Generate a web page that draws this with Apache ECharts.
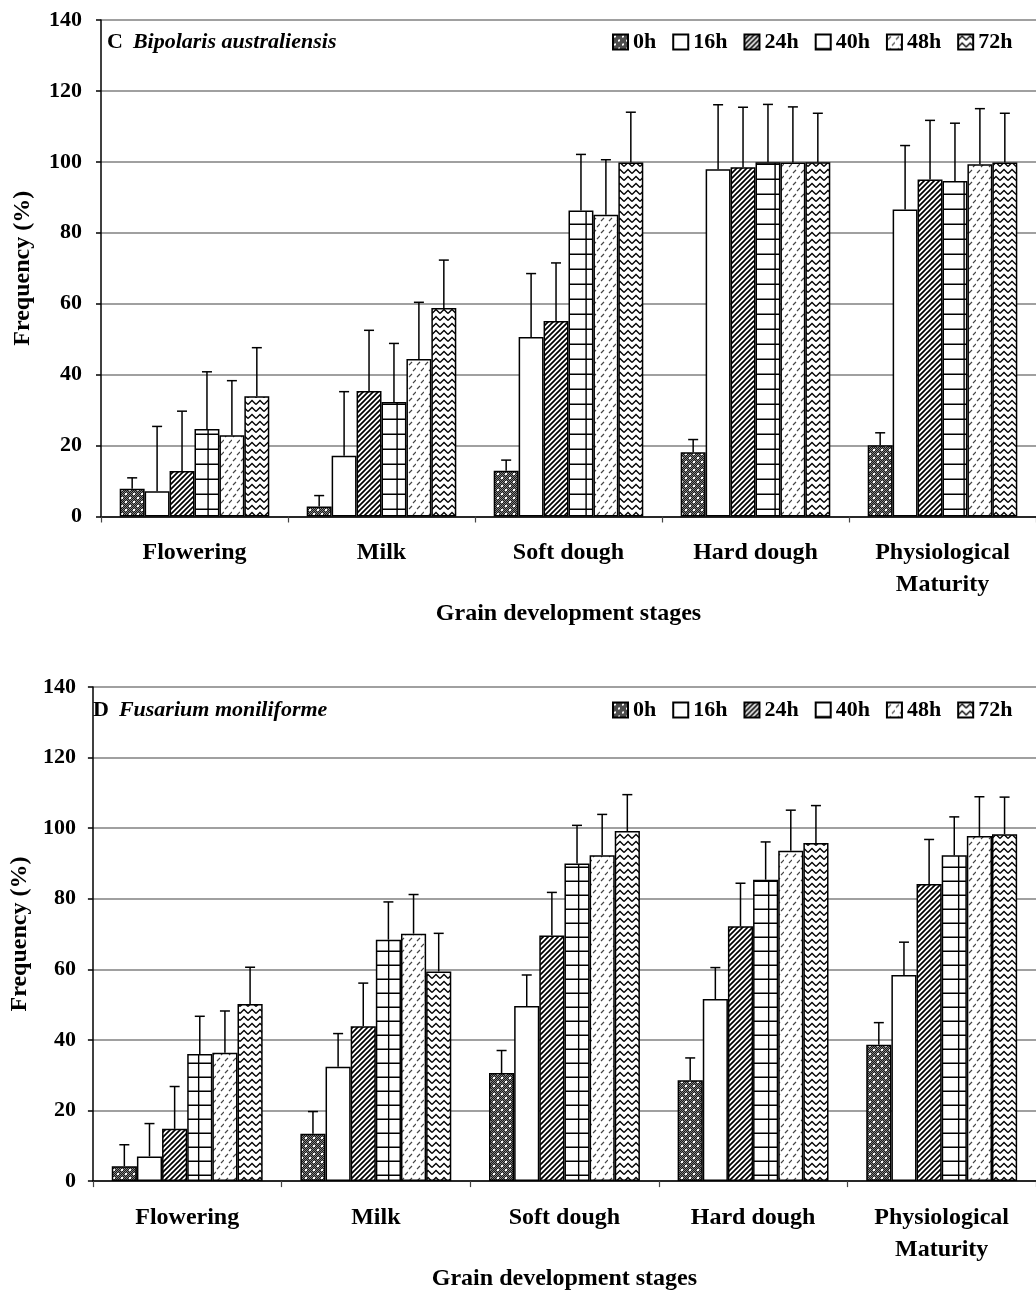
<!DOCTYPE html>
<html>
<head>
<meta charset="utf-8">
<script src="https://cdn.jsdelivr.net/npm/echarts@6/dist/echarts.min.js"></script>
<style>
html,body{margin:0;padding:0;background:#fff;}
#chart{width:1036px;height:1292px;}
</style>
</head>
<body>
<div id="chart"></div>
<script>
// ---------------- DATA ----------------
const categories = ['Flowering', 'Milk', 'Soft dough', 'Hard dough', 'Physiological\nMaturity'];
const seriesNames = ['0h', '16h', '24h', '40h', '48h', '72h'];
const yTicks = [0, 20, 40, 60, 80, 100, 120, 140];

// Panel C: Bipolaris australiensis (mean frequency %)
const c0h  = [7.8, 2.8, 12.9, 18.1, 20.1];
const c16h = [7.1, 17.1, 50.6, 97.9, 86.6];
const c24h = [12.8, 35.4, 55.1, 98.5, 95.0];
const c40h = [24.7, 32.3, 86.3, 99.9, 94.6];
const c48h = [22.9, 44.4, 85.1, 99.8, 99.3];
const c72h = [33.9, 58.8, 99.8, 99.9, 99.8];
// Panel C error (upper bar length)
const cErr0h  = [3.1, 3.1, 3.0, 3.6, 3.5];
const cErr16h = [18.3, 18.1, 17.9, 18.2, 18.0];
const cErr24h = [16.9, 17.1, 16.4, 16.9, 16.7];
const cErr40h = [16.1, 16.5, 15.8, 16.3, 16.3];
const cErr48h = [15.4, 16.0, 15.5, 15.7, 15.7];
const cErr72h = [13.7, 13.5, 14.2, 13.8, 13.9];

// Panel D: Fusarium moniliforme
const d0h  = [4.2, 13.4, 30.6, 28.6, 38.6];
const d16h = [7.0, 32.4, 49.6, 51.6, 58.4];
const d24h = [14.8, 43.9, 69.6, 72.2, 84.2];
const d40h = [36.0, 68.4, 90.0, 85.4, 92.3];
const d48h = [36.4, 70.1, 92.3, 93.6, 97.8];
const d72h = [50.2, 59.4, 99.2, 95.8, 98.3];
const dErr0h  = [6.1, 6.3, 6.4, 6.3, 6.3];
const dErr16h = [9.3, 9.4, 8.8, 8.9, 9.3];
const dErr24h = [12.0, 12.2, 12.2, 12.2, 12.6];
const dErr40h = [10.7, 10.7, 10.8, 10.7, 10.9];
const dErr48h = [11.8, 11.1, 11.6, 11.5, 11.1];
const dErr72h = [10.4, 10.8, 10.3, 10.6, 10.5];

// ---------------- LAYOUT / STYLE ----------------
const FONT = 'Liberation Serif';
const FS = 22;
const FSB = 24;
const panels = [
  { key: 'C', species: 'Bipolaris australiensis', left: 101, top: 20, width: 945, height: 496.5,
    means: [c0h, c16h, c24h, c40h, c48h, c72h], errs: [cErr0h, cErr16h, cErr24h, cErr40h, cErr48h, cErr72h],
    titleLeft: 107, titleTop: 31, legendTop: 31, yNameGap: 66, labelMargin: 19, catMargin: 20, xNameGap: 81, gridTile: 15 },
  { key: 'D', species: 'Fusarium moniliforme', left: 91, top: 687, width: 950, height: 498,
    means: [d0h, d16h, d24h, d40h, d48h, d72h], errs: [dErr0h, dErr16h, dErr24h, dErr40h, dErr48h, dErr72h],
    titleLeft: 93, titleTop: 699, legendTop: 699, yNameGap: 59, labelMargin: 17, catMargin: 21, xNameGap: 82, gridTile: 14 }
];

function mk(w, h, draw) {
  const c = document.createElement('canvas');
  c.width = w; c.height = h;
  const g = c.getContext('2d');
  g.fillStyle = '#fff'; g.fillRect(0, 0, w, h);
  draw(g, w, h);
  return c;
}
function patDots() {
  return mk(8, 8, (g) => {
    for (let x = 0; x < 8; x++) for (let y = 0; y < 8; y++) {
      g.fillStyle = (x + y) % 2 ? '#1a1a1a' : '#808080';
      g.fillRect(x, y, 1, 1);
    }
    g.fillStyle = '#fff';
    g.fillRect(1, 1, 2, 2);
    g.fillRect(5, 5, 2, 2);
  });
}
function patDiag() {
  return mk(5, 5, (g) => {
    g.strokeStyle = '#000'; g.lineWidth = 1.7;
    g.beginPath();
    g.moveTo(0, 5); g.lineTo(5, 0);
    g.moveTo(-1, 1); g.lineTo(1, -1);
    g.moveTo(4, 6); g.lineTo(6, 4);
    g.stroke();
  });
}
function patGrid(band, left, tileH) {
  const vx = (left + band * (0.1 + 3.5 * 0.8 / 6)) % band;
  return mk(Math.round(band), tileH, (g, w, h) => {
    g.strokeStyle = '#000'; g.lineWidth = 1.4;
    g.beginPath();
    g.moveTo(0, h - 0.7); g.lineTo(w, h - 0.7);
    g.moveTo(vx, 0); g.lineTo(vx, h);
    g.stroke();
  });
}
function patDash() {
  return mk(8, 12, (g) => {
    g.strokeStyle = '#444'; g.lineWidth = 1.2;
    g.beginPath();
    g.moveTo(1, 5); g.lineTo(4, 2);
    g.moveTo(5, 11); g.lineTo(8, 8);
    g.stroke();
  });
}
function patWave() {
  return mk(8, 7, (g) => {
    g.strokeStyle = '#000'; g.lineWidth = 1.3;
    g.beginPath();
    g.moveTo(0, 5.5); g.lineTo(4, 1.5); g.lineTo(8, 5.5);
    g.stroke();
  });
}

const txt = { fontFamily: FONT, fontWeight: 'bold', fontSize: FS, color: '#000' };
const txtB = { fontFamily: FONT, fontWeight: 'bold', fontSize: FSB, color: '#000' };

const grid = [], xAxis = [], yAxis = [], series = [], legend = [], title = [];

panels.forEach((p, pi) => {
  const band = p.width / categories.length;
  const fills = [
    { image: patDots(), repeat: 'repeat' },
    '#ffffff',
    { image: patDiag(), repeat: 'repeat' },
    { image: patGrid(band, p.left, p.gridTile), repeat: 'repeat' },
    { image: patDash(), repeat: 'repeat' },
    { image: patWave(), repeat: 'repeat' }
  ];
  grid.push({ left: p.left, top: p.top, width: p.width, height: p.height });
  xAxis.push({
    type: 'category', gridIndex: pi, data: categories,
    axisLine: { lineStyle: { color: '#000', width: 1.5 } },
    axisTick: { show: true, length: 6, lineStyle: { color: '#444', width: 1.2 } },
    axisLabel: Object.assign({ interval: 0, margin: p.catMargin, lineHeight: 32 }, txtB),
    name: 'Grain development stages', nameLocation: 'middle', nameGap: p.xNameGap,
    nameTextStyle: txtB
  });
  yAxis.push({
    type: 'value', gridIndex: pi, min: yTicks[0], max: yTicks[yTicks.length - 1], interval: yTicks[1] - yTicks[0],
    axisLine: { show: true, lineStyle: { color: '#000', width: 1.5 } },
    axisTick: { show: true, length: 5, lineStyle: { color: '#000', width: 1.5 } },
    axisLabel: Object.assign({ margin: p.labelMargin }, txt),
    splitLine: { show: true, lineStyle: { color: '#808080', width: 1.5 } },
    name: 'Frequency (%)', nameLocation: 'middle', nameGap: p.yNameGap,
    nameTextStyle: txtB
  });
  seriesNames.forEach((nm, si) => {
    series.push({
      type: 'bar', name: nm, xAxisIndex: pi, yAxisIndex: pi,
      data: p.means[si], barGap: '0%', barCategoryGap: '20%',
      itemStyle: { color: fills[si], borderColor: '#000', borderWidth: 1.5 },
      silent: true, z: 2
    });
  });
  seriesNames.forEach((nm, si) => {
    const data = p.means[si].map((v, k) => [k, v, p.errs[si][k]]);
    series.push({
      type: 'custom', name: 'err' + p.key + nm, xAxisIndex: pi, yAxisIndex: pi,
      data: data, encode: { x: 0, y: 1 }, silent: true, z: 5,
      renderItem: (params, api) => {
        const k = api.value(0), v = api.value(1), e = api.value(2);
        const b = api.coord([k, v]);
        const t = api.coord([k, v + e]);
        const bw = api.size([1, 0])[0];
        const barW = bw * 0.8 / 6;
        const x = b[0] - bw * 0.4 + (si + 0.5) * barW;
        const st = { stroke: '#000', lineWidth: 1.5 };
        return { type: 'group', children: [
          { type: 'line', shape: { x1: x, y1: b[1], x2: x, y2: t[1] }, style: st },
          { type: 'line', shape: { x1: x - 5, y1: t[1], x2: x + 5, y2: t[1] }, style: st }
        ] };
      }
    });
  });
  legend.push({
    data: seriesNames, left: 612, top: p.legendTop, padding: 0,
    icon: 'rect', itemWidth: 15, itemHeight: 15, itemGap: 16, selectedMode: false,
    textStyle: txt
  });
  title.push({
    text: '{a|' + p.key + '}  {b|' + p.species + '}', left: p.titleLeft, top: p.titleTop, padding: 0,
    textStyle: { rich: {
      a: { fontFamily: FONT, fontWeight: 'bold', fontSize: FS, color: '#000' },
      b: { fontFamily: FONT, fontWeight: 'bold', fontStyle: 'italic', fontSize: FS, color: '#000' }
    } }
  });
});

const chart = echarts.init(document.getElementById('chart'), null, { renderer: 'canvas' });
chart.setOption({
  animation: false,
  backgroundColor: '#fff',
  title: title, grid: grid, xAxis: xAxis, yAxis: yAxis, legend: legend, series: series
});
</script>
</body>
</html>
